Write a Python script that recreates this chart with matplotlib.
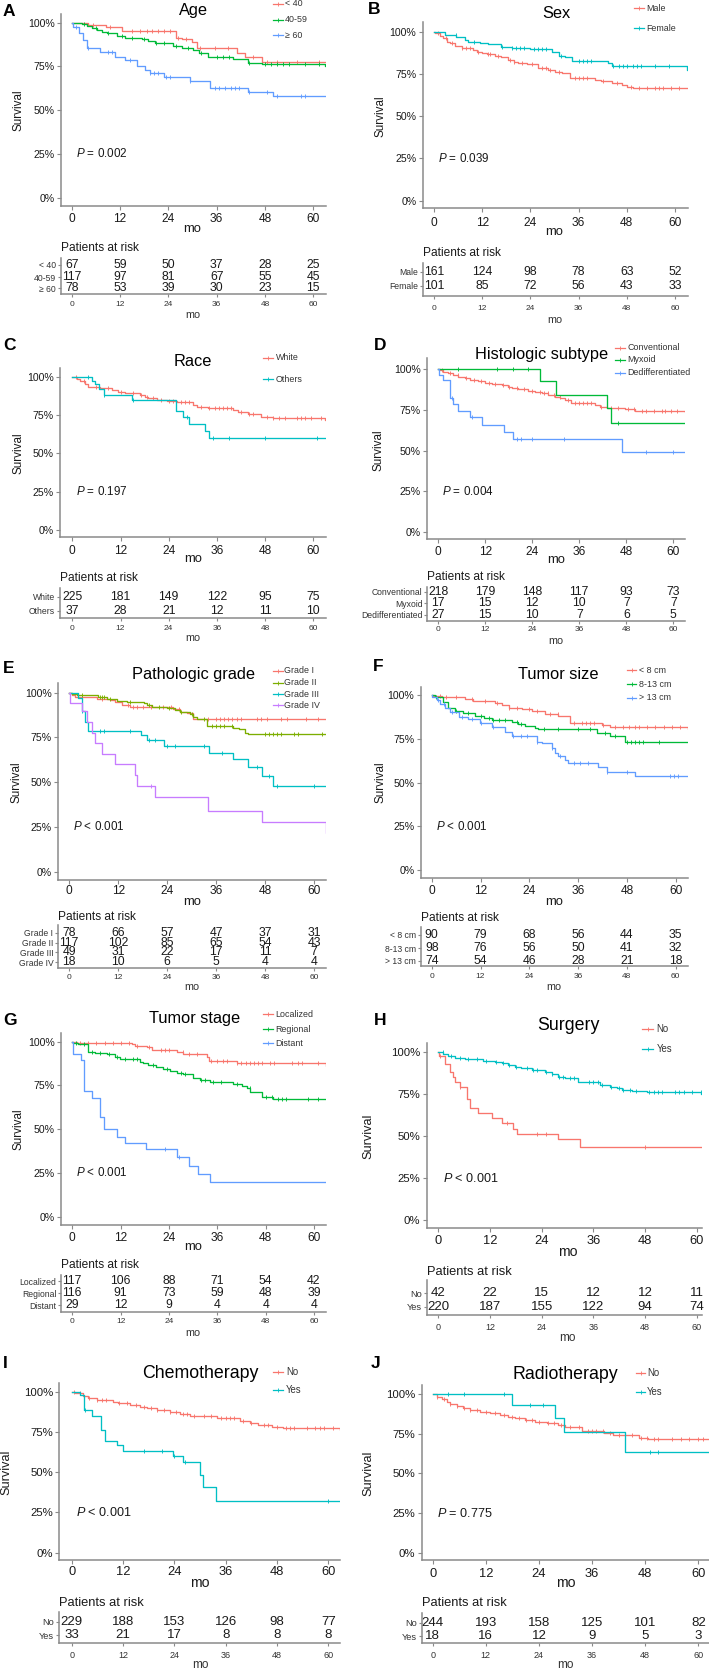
import numpy as np
import matplotlib
matplotlib.use("Agg")
import matplotlib.pyplot as plt

plt.rcParams['font.family'] = ['Liberation Sans', 'DejaVu Sans']
plt.rcParams['mathtext.fontset'] = 'custom'
plt.rcParams['mathtext.rm'] = 'Liberation Sans'
plt.rcParams['mathtext.it'] = 'Liberation Sans:italic'

W, H = 709, 1669
TICKS = [0, 12, 24, 36, 48, 60]
END = 64.0

# ---------------- A: Age
A_title = "Age"
A_p = "= 0.002"
A_groups = ["< 40", "40-59", "\u2265 60"]
A1_t = [4.1, 8.5, 12.4, 25.8, 27.3, 29.8, 31.0, 41.0, 43.0, 47.2]
A1_s = [0.985, 0.973, 0.954, 0.914, 0.905, 0.891, 0.853, 0.829, 0.806, 0.777]
A1_c = [5.4, 9.5, 14.9, 17, 18.6, 19.9, 21.5, 22.8, 24.4, 26.5, 28.5, 31.9, 35.6, 38.9, 45.1, 48.4, 50.9, 55.9, 61.3]
A2_t = [2.5, 3.7, 5.0, 6.2, 7.5, 8.7, 11.2, 13.2, 17.4, 19.0, 20.7, 25.2, 27.3, 30.2, 31.5, 33.9, 40.1, 43.9, 47.2, 62.9]
A2_s = [0.99, 0.98, 0.97, 0.958, 0.949, 0.939, 0.924, 0.914, 0.905, 0.895, 0.882, 0.869, 0.853, 0.844, 0.829, 0.806, 0.79, 0.771, 0.762, 0.75]
A2_c = [3, 6, 9, 12.5, 15, 18, 21, 23, 26, 29, 32, 36, 37.5, 39, 44, 48, 49.5, 51, 52.5, 54, 58, 61.5]
A3_t = [0.4, 1.7, 2.9, 3.9, 7.0, 10.8, 13.2, 16.1, 18.2, 19.5, 22.8, 29.4, 34.4, 43.9, 50.1]
A3_s = [0.973, 0.939, 0.901, 0.853, 0.834, 0.806, 0.787, 0.752, 0.73, 0.71, 0.688, 0.669, 0.625, 0.602, 0.581]
A3_c = [1, 4, 9, 10, 14.5, 19.5, 20.5, 21.5, 23.5, 24.5, 29.5, 35.5, 36.5, 38, 39.5, 40.5, 41.5, 44, 48.5, 51, 57, 58]
A_risk = [[67, 59, 50, 37, 28, 25], [117, 97, 81, 67, 55, 45], [78, 53, 39, 30, 23, 15]]

# ---------------- B: Sex
B_title = "Sex"
B_p = "= 0.039"
B_groups = ["Male", "Female"]
B1_t = [0.2, 1.5, 2.3, 3.2, 4.0, 5.2, 6.9, 9.8, 10.6, 11.9, 13.1, 15.2, 16.8, 18.5, 19.8, 21.0, 23.1, 26.0, 28.5, 30.1, 31.8, 33.9, 40.1, 41.7, 44.2, 46.7, 48.0, 49.6]
B1_s = [0.99, 0.974, 0.96, 0.941, 0.931, 0.917, 0.901, 0.892, 0.882, 0.872, 0.866, 0.856, 0.848, 0.832, 0.82, 0.813, 0.807, 0.783, 0.773, 0.763, 0.753, 0.728, 0.714, 0.706, 0.698, 0.684, 0.671, 0.665]
B1_c = [1, 3, 4.5, 7, 8, 9, 11, 13.5, 14, 16, 19, 20, 22, 24.5, 27, 28, 29, 31, 35, 36, 37, 38, 42, 45.5, 49, 51, 53, 55, 56, 57, 59, 61]
B2_t = [2.7, 5.6, 7.7, 8.5, 11.5, 13.5, 16.8, 19.3, 23.9, 29.3, 31.0, 32.6, 34.3, 43.4, 44.2, 62.9]
B2_s = [0.98, 0.97, 0.95, 0.941, 0.935, 0.925, 0.911, 0.905, 0.897, 0.882, 0.858, 0.848, 0.828, 0.813, 0.797, 0.775]
B2_c = [5.5, 10, 17, 19.5, 20.5, 21.5, 22.5, 25, 26, 27, 28, 31.5, 36, 37, 38, 39, 44.5, 46, 47, 48, 49.5, 50.5, 51.5, 55, 58.5]
B_risk = [[161, 124, 98, 78, 63, 52], [101, 85, 72, 56, 43, 33]]

# ---------------- C: Race
C_title = "Race"
C_p = "= 0.197"
C_groups = ["White", "Others"]
C1_t = [0.2, 1.1, 1.9, 3.2, 4.0, 6.9, 9.8, 11.5, 13.1, 16.8, 18.1, 18.9, 21.0, 23.5, 26.0, 30.1, 31.0, 33.9, 40.1, 41.3, 43.8, 47.1, 50.0, 63.0]
C1_s = [0.996, 0.987, 0.974, 0.952, 0.935, 0.924, 0.913, 0.902, 0.891, 0.88, 0.87, 0.859, 0.848, 0.841, 0.833, 0.815, 0.804, 0.793, 0.783, 0.772, 0.757, 0.739, 0.728, 0.718]
C1_c = [1, 3, 6, 9, 12, 15, 17, 18.5, 20, 22, 24, 25, 27, 28, 29, 32, 34, 35.5, 36.5, 37.5, 38.5, 39.5, 42, 44, 45, 48.5, 50, 51.5, 53, 56, 57, 58, 59.5, 62]
C2_t = [4.8, 5.6, 6.7, 7.9, 14.8, 25.7, 27.5, 29.0, 33.0, 34.1]
C2_s = [0.974, 0.95, 0.92, 0.88, 0.848, 0.778, 0.735, 0.689, 0.646, 0.598]
C2_c = [4, 8, 15, 28.5, 35, 39, 48, 61]
C_risk = [[225, 181, 149, 122, 95, 75], [37, 28, 21, 12, 11, 10]]

# ---------------- D: Histologic subtype
D_title = "Histologic subtype"
D_p = "= 0.004"
D_groups = ["Conventional", "Myxoid", "Dedifferentiated"]
D1_t = [0.4, 1.3, 2.6, 3.8, 5.1, 6.8, 8.1, 10.2, 11.9, 13.6, 16.2, 17.9, 18.7, 20.4, 23.0, 24.7, 26.4, 28.1, 29.8, 31.1, 32.3, 34.0, 40.0, 41.3, 43.0, 46.8, 47.7, 50.2, 63.0]
D1_s = [0.994, 0.984, 0.973, 0.963, 0.953, 0.943, 0.933, 0.927, 0.916, 0.908, 0.902, 0.892, 0.882, 0.876, 0.867, 0.859, 0.851, 0.841, 0.831, 0.82, 0.81, 0.79, 0.78, 0.769, 0.763, 0.759, 0.753, 0.745, 0.738]
D1_c = [1, 3, 5, 7, 9, 11, 13, 14.5, 16.5, 18, 20, 22, 24, 26, 27, 28, 29.5, 31, 33, 35, 36, 37, 38, 39, 41.5, 44, 46, 48.5, 50, 52, 53, 55, 57, 58, 59.5, 61]
D2_t = [26.0, 30.0, 43.0, 44.0]
D2_s = [0.927, 0.841, 0.759, 0.671]
D2_c = [5, 15, 19, 23, 46]
D3_t = [0.3, 1.3, 3.0, 3.8, 5.1, 8.1, 11.1, 16.9, 19.0, 46.8]
D3_s = [0.963, 0.933, 0.82, 0.784, 0.745, 0.704, 0.657, 0.612, 0.571, 0.49]
D3_c = [3.5, 8.5, 20, 21, 24, 32, 53, 60]
D_risk = [[218, 179, 148, 117, 93, 73], [17, 15, 12, 10, 7, 7], [27, 15, 10, 7, 6, 5]]

# ---------------- E: Pathologic grade
E_title = "Pathologic grade"
E_p = "< 0.001"
E_groups = ["Grade I", "Grade II", "Grade III", "Grade IV"]
E1_t = [0.6, 1.4, 6.7, 10.0, 11.2, 12.8, 14.9, 25.5, 27.1, 28.8, 30.4]
E1_s = [0.987, 0.978, 0.963, 0.959, 0.95, 0.931, 0.922, 0.909, 0.894, 0.885, 0.851]
E1_c = [3, 8, 14.5, 15.5, 16.5, 18, 20, 23, 25, 27, 34, 36, 37, 38, 39, 40, 41, 42, 46, 47, 48.5, 52, 53.5, 58, 61]
E2_t = [0.6, 1.8, 7.1, 9.2, 11.6, 14.1, 18.2, 19.0, 20.2, 23.9, 25.9, 27.1, 29.6, 30.4, 31.2, 33.7, 40.2, 41.5, 43.1, 43.9]
E2_s = [0.993, 0.987, 0.974, 0.965, 0.955, 0.95, 0.94, 0.931, 0.922, 0.912, 0.903, 0.894, 0.881, 0.866, 0.851, 0.814, 0.804, 0.797, 0.777, 0.769]
E2_c = [3, 7.5, 8, 8.5, 10, 15, 19.5, 22, 24.5, 27.5, 30, 33, 35, 36, 37, 38, 40, 48, 49, 50, 51, 52, 55, 56, 62]
E3_t = [2.2, 3.0, 3.8, 4.7, 17.7, 19.0, 23.1, 34.3, 40.2, 43.9, 47.2, 50.0]
E3_s = [0.968, 0.899, 0.838, 0.788, 0.764, 0.736, 0.702, 0.665, 0.628, 0.587, 0.534, 0.48]
E3_c = [3, 7.5, 8.5, 15, 19.5, 21, 24, 26, 33, 37.5, 46, 49, 51, 60]
E4_t = [0.2, 3.0, 4.3, 5.5, 6.3, 7.9, 11.2, 16.1, 16.7, 21.0, 34.1, 47.2, 63.0]
E4_s = [0.944, 0.899, 0.838, 0.777, 0.717, 0.657, 0.6, 0.54, 0.48, 0.419, 0.341, 0.276, 0.214]
E4_c = [20]
E_risk = [[78, 66, 57, 47, 37, 31], [117, 102, 85, 65, 54, 43], [49, 31, 22, 17, 11, 7], [18, 10, 6, 5, 4, 4]]

# ---------------- F: Tumor size
F_title = "Tumor size"
F_p = "< 0.001"
F_groups = ["< 8 cm", "8-13 cm", "> 13 cm"]
F1_t = [0.4, 2.5, 5.7, 8.2, 10.2, 15.6, 17.2, 18.9, 22.1, 24.6, 27.9, 31.1, 34.0, 36.9, 41.8, 43.9, 63.1]
F1_s = [0.996, 0.99, 0.987, 0.975, 0.968, 0.956, 0.943, 0.924, 0.918, 0.907, 0.891, 0.88, 0.842, 0.838, 0.829, 0.819, 0.804]
F1_c = [2, 3.5, 6, 10, 13, 16, 19, 21, 24, 26, 29, 31, 35, 37, 38, 39, 40, 42, 45, 47, 48.5, 50, 51, 53, 55, 57, 59, 61]
F2_t = [0.8, 2.9, 4.1, 5.7, 7.8, 10.7, 12.8, 14.8, 19.7, 21.3, 23.0, 25.4, 26.2, 40.6, 43.9, 47.5]
F2_s = [0.99, 0.962, 0.924, 0.91, 0.899, 0.88, 0.867, 0.857, 0.848, 0.834, 0.823, 0.81, 0.804, 0.781, 0.766, 0.733]
F2_c = [1, 6, 9, 12, 14, 15, 16.5, 18, 21, 22, 27.5, 31, 36, 39, 42.5, 45, 48, 49, 50, 51, 52, 56]
F3_t = [0.1, 1.2, 2.0, 3.3, 4.5, 6.6, 9.0, 11.9, 14.8, 18.0, 19.7, 25.8, 27.0, 29.5, 30.3, 31.1, 32.8, 33.6, 41.0, 43.0, 50.0]
F3_s = [0.987, 0.971, 0.949, 0.924, 0.905, 0.876, 0.861, 0.838, 0.819, 0.79, 0.766, 0.733, 0.724, 0.695, 0.667, 0.651, 0.629, 0.613, 0.59, 0.562, 0.537]
F3_c = [1.5, 3, 5, 7.5, 10, 12, 15, 20, 22, 23.5, 26, 29.5, 31.5, 35, 36.5, 38.5, 43, 48, 58.5, 59.5, 60.5]
F_risk = [[90, 79, 68, 56, 44, 35], [98, 76, 56, 50, 41, 32], [74, 54, 46, 28, 21, 18]]

# ---------------- G: Tumor stage
G_title = "Tumor stage"
G_p = "< 0.001"
G_groups = ["Localized", "Regional", "Distant"]
G1_t = [1.1, 14.7, 15.6, 18.5, 19.7, 25.9, 27.6, 33.4, 34.0, 40.8, 63.0]
G1_s = [0.994, 0.987, 0.977, 0.968, 0.952, 0.943, 0.93, 0.914, 0.891, 0.876, 0.863]
G1_c = [2, 4, 6, 8, 10, 12, 14, 16, 19, 22, 23, 24, 27.5, 29, 31, 34.5, 36, 37.5, 38.5, 41, 42, 43, 44, 45, 46, 47, 49, 50, 54.5, 56, 57, 61]
G2_t = [0.2, 1.5, 4.0, 5.6, 8.5, 10.6, 11.8, 16.8, 17.6, 18.9, 20.9, 22.6, 24.3, 25.9, 27.6, 30.0, 31.7, 34.2, 40.0, 42.1, 43.3, 44.1, 47.0, 49.9]
G2_s = [0.99, 0.985, 0.943, 0.937, 0.93, 0.914, 0.899, 0.886, 0.876, 0.867, 0.857, 0.842, 0.832, 0.823, 0.815, 0.79, 0.781, 0.771, 0.758, 0.747, 0.733, 0.714, 0.686, 0.672]
G2_c = [1, 3, 5, 7, 9, 11, 13, 15, 16, 20, 23.5, 27, 28, 32, 33, 35, 37, 41, 44, 48, 49.5, 51, 52, 53, 58.5, 61]
G3_t = [0.1, 2.1, 2.9, 4.8, 6.9, 7.9, 11.0, 13.1, 18.2, 25.9, 29.0, 31.3, 34.2]
G3_s = [0.928, 0.895, 0.718, 0.68, 0.571, 0.501, 0.457, 0.423, 0.387, 0.343, 0.291, 0.244, 0.196]
G3_c = [23, 26.5]
G_risk = [[117, 106, 88, 71, 54, 42], [116, 91, 73, 59, 48, 39], [29, 12, 9, 4, 4, 4]]

# ---------------- H: Surgery
H_title = "Surgery"
H_p = "< 0.001"
H_groups = ["No", "Yes"]
H1_t = [0.1, 1.5, 2.7, 3.5, 3.9, 5.0, 6.6, 7.4, 9.3, 12.4, 14.7, 17.4, 18.2, 27.9, 32.9]
H1_s = [0.976, 0.928, 0.885, 0.855, 0.825, 0.795, 0.72, 0.666, 0.636, 0.606, 0.577, 0.543, 0.511, 0.481, 0.437]
H1_c = [0.5, 5, 16, 23, 25, 48]
H2_t = [1.2, 2.3, 3.9, 6.2, 10.4, 13.2, 14.7, 16.3, 17.8, 19.3, 21.7, 24.8, 26.3, 27.9, 29.4, 32.5, 37.5, 39.9, 41.4, 42.6, 44.9, 48.4, 61.1]
H2_s = [0.99, 0.98, 0.968, 0.96, 0.948, 0.94, 0.934, 0.924, 0.915, 0.905, 0.895, 0.881, 0.869, 0.855, 0.845, 0.82, 0.805, 0.795, 0.785, 0.775, 0.769, 0.761, 0.75]
H2_c = [1, 3, 5, 7, 9, 11, 13.5, 15, 16.5, 18, 20.5, 22, 23, 25, 26.5, 28, 29, 30.5, 31.5, 35, 36, 37, 38, 40, 42, 43, 44.5, 46, 49, 50, 51, 52, 55, 56, 57, 59, 61]
H_risk = [[42, 22, 15, 12, 12, 11], [220, 187, 155, 122, 94, 74]]

# ---------------- I: Chemotherapy
I_title = "Chemotherapy"
I_p = "< 0.001"
I_groups = ["No", "Yes"]
I1_t = [0.8, 2.7, 3.9, 5.8, 9.7, 10.9, 13.6, 16.0, 17.5, 19.9, 23.0, 25.3, 27.7, 33.9, 39.4, 41.7, 43.6, 46.8, 49.5, 62.7]
I1_s = [0.99, 0.973, 0.959, 0.948, 0.938, 0.928, 0.917, 0.907, 0.896, 0.886, 0.876, 0.861, 0.849, 0.834, 0.818, 0.803, 0.793, 0.783, 0.772, 0.762]
I1_c = [0.5, 2, 4, 6, 7, 8, 11, 13, 15, 17, 18.5, 20, 21.5, 23, 24.5, 26, 27, 28.5, 31, 32.5, 35, 36, 37, 38, 40, 42, 45, 46, 48, 50, 51, 52, 55, 57, 58, 59, 61]
I2_t = [1.9, 2.9, 4.7, 6.9, 7.8, 10.7, 11.9, 23.6, 26.0, 29.9, 30.8, 33.7]
I2_s = [0.979, 0.886, 0.849, 0.762, 0.694, 0.669, 0.631, 0.602, 0.565, 0.482, 0.406, 0.323]
I2_c = [3, 17, 21, 24, 26.5, 60]
I_risk = [[229, 188, 153, 126, 98, 77], [33, 21, 17, 8, 8, 8]]

# ---------------- J: Radiotherapy
J_title = "Radiotherapy"
J_p = "= 0.775"
J_groups = ["No", "Yes"]
J1_t = [0.9, 2.0, 3.2, 3.9, 5.4, 6.9, 8.4, 10.7, 13.0, 15.2, 17.1, 18.6, 20.9, 23.1, 25.8, 28.4, 29.9, 33.7, 38.6, 40.8, 46.5, 48.7]
J1_s = [0.983, 0.966, 0.952, 0.935, 0.924, 0.91, 0.899, 0.889, 0.878, 0.868, 0.857, 0.847, 0.836, 0.826, 0.815, 0.805, 0.794, 0.769, 0.756, 0.742, 0.725, 0.714]
J1_c = [1, 2.5, 4, 5.5, 7, 8.5, 10, 12, 14, 16, 18, 19.5, 21, 22.5, 24, 26, 27.5, 29, 31, 33, 35, 36, 37, 38.5, 40, 42, 43.5, 45, 47, 48.5, 50, 51, 54, 56, 58, 60, 61]
J2_t = [18.0, 27.6, 29.7, 43.4]
J2_s = [0.931, 0.847, 0.763, 0.637]
J2_c = [3.5, 7, 16, 22, 25, 49, 51]
J_risk = [[244, 193, 158, 125, 101, 82], [18, 16, 12, 9, 5, 3]]

# ---------------- colours (ggplot hue palette)
PAL = {2: ['#F8766D', '#00BFC4'],
       3: ['#F8766D', '#00BA38', '#619CFF'],
       4: ['#F8766D', '#7CAE00', '#00BFC4', '#C77CFF']}

# ---------------- layout (pixel positions)
LAY = {
 'A': dict(l=61, r=326, t=14, b=206, x0=71.7, x60=313.3, y100=22.7, y0=197.7, xt=216,
           title=(193, 11), letter=(9, 11), leg=(273, 283, 285, [4, 20, 35]), ylx=18, mo=229,
           par=248, tt=258, tb=294, rows=[265, 277, 288], rt=303, mo2=315, k=1.0),
 'B': dict(l=422.7, r=687.7, t=21.7, b=208, x0=434, x60=675, y100=31.7, y0=200.7, xt=220,
           title=(556.7, 14), letter=(374, 9), leg=(634, 644, 646, [8.3, 28.3]), ylx=380, mo=231.7,
           par=253.3, tt=263.3, tb=296, rows=[271.7, 285.7], rt=306.7, mo2=320, k=1.0),
 'C': dict(l=60, r=326, t=368.3, b=537.3, x0=72.3, x60=313.3, y100=376.7, y0=530, xt=547.7,
           title=(192.7, 361), letter=(9, 345), leg=(263, 273, 276, [357.7, 379]), ylx=18, mo=559.3,
           par=578.3, tt=588.3, tb=617.7, rows=[596.7, 610.7], rt=626.7, mo2=638.3, k=1.0),
 'D': dict(l=427.3, r=685, t=358.3, b=539, x0=438.3, x60=673.3, y100=369, y0=532.3, xt=549.3,
           title=(541.7, 355), letter=(380, 345), leg=(615, 625, 627.7, [347.7, 360, 372.7]), ylx=378, mo=560,
           par=576.7, tt=586.7, tb=621, rows=[591.7, 603.3, 615], rt=628.3, mo2=641, k=1.0),
 'E': dict(l=58.3, r=326, t=683, b=880, x0=69.3, x60=314, y100=692.7, y0=871.7, xt=888.3,
           title=(193, 674), letter=(9, 668), leg=(273, 283, 284, [670.7, 682.7, 694, 705]), ylx=17, mo=901.7,
           par=916.7, tt=925, tb=967.7, rows=[932.7, 942.7, 952.3, 962.3], rt=976, mo2=987, k=1.0),
 'F': dict(l=420.7, r=688, t=686.7, b=878.3, x0=431.7, x60=675.7, y100=695, y0=870, xt=888.3,
           title=(558, 674), letter=(378, 666), leg=(627, 636, 639, [670, 684.3, 697.7]), ylx=380, mo=901.7,
           par=918, tt=927, tb=966, rows=[935, 948, 960.7], rt=975, mo2=987, k=1.0),
 'G': dict(l=61, r=326, t=1033.3, b=1225, x0=72.3, x60=314, y100=1041.7, y0=1216.7, xt=1235,
           title=(195, 1018.3), letter=(10, 1020), leg=(263, 273, 275, [1014, 1029, 1043.3]), ylx=18, mo=1246.7,
           par=1265, tt=1275, tb=1311.7, rows=[1281, 1293.3, 1305], rt=1320, mo2=1333, k=1.0),
 'H': dict(l=426.7, r=701.7, t=1043.3, b=1228.3, x0=438.3, x60=696.7, y100=1052.3, y0=1220, xt=1238.3,
           title=(568.3, 1025), letter=(380, 1020), leg=(642, 653, 656.7, [1029.3, 1049]), ylx=368, mo=1251.7,
           par=1271.7, tt=1280, tb=1315, rows=[1293.3, 1306.7], rt=1325, mo2=1338, k=1.08),
 'I': dict(l=59.3, r=340, t=1382.7, b=1560, x0=71.7, x60=328.3, y100=1391.7, y0=1552.7, xt=1569.3,
           title=(200, 1373), letter=(5, 1363), leg=(273, 283, 286, [1372, 1390]), ylx=6, mo=1583.3,
           par=1602.7, tt=1611.7, tb=1643.3, rows=[1621.7, 1635], rt=1653.3, mo2=1665, k=1.08),
 'J': dict(l=421.7, r=709, t=1385, b=1560, x0=432.7, x60=698.3, y100=1394, y0=1552.7, xt=1571.7,
           title=(565.7, 1374), letter=(376, 1363), leg=(636, 645, 647, [1373, 1391.7]), ylx=368, mo=1583.3,
           par=1603, tt=1613, tb=1643, rows=[1622.7, 1636], rt=1653, mo2=1665, k=1.08),
}

PANELS = [
 ('A', A_title, A_p, A_groups, [(A1_t, A1_s, A1_c), (A2_t, A2_s, A2_c), (A3_t, A3_s, A3_c)], A_risk),
 ('B', B_title, B_p, B_groups, [(B1_t, B1_s, B1_c), (B2_t, B2_s, B2_c)], B_risk),
 ('C', C_title, C_p, C_groups, [(C1_t, C1_s, C1_c), (C2_t, C2_s, C2_c)], C_risk),
 ('D', D_title, D_p, D_groups, [(D1_t, D1_s, D1_c), (D2_t, D2_s, D2_c), (D3_t, D3_s, D3_c)], D_risk),
 ('E', E_title, E_p, E_groups, [(E1_t, E1_s, E1_c), (E2_t, E2_s, E2_c), (E3_t, E3_s, E3_c), (E4_t, E4_s, E4_c)], E_risk),
 ('F', F_title, F_p, F_groups, [(F1_t, F1_s, F1_c), (F2_t, F2_s, F2_c), (F3_t, F3_s, F3_c)], F_risk),
 ('G', G_title, G_p, G_groups, [(G1_t, G1_s, G1_c), (G2_t, G2_s, G2_c), (G3_t, G3_s, G3_c)], G_risk),
 ('H', H_title, H_p, H_groups, [(H1_t, H1_s, H1_c), (H2_t, H2_s, H2_c)], H_risk),
 ('I', I_title, I_p, I_groups, [(I1_t, I1_s, I1_c), (I2_t, I2_s, I2_c)], I_risk),
 ('J', J_title, J_p, J_groups, [(J1_t, J1_s, J1_c), (J2_t, J2_s, J2_c)], J_risk),
]

SPINE = '#8a8a8a'
TXT = '#1a1a1a'

fig = plt.figure(figsize=(W / 100, H / 100), dpi=100)
fig.patch.set_facecolor('white')


def rect(l, t, r, b):
    return [l / W, 1 - b / H, (r - l) / W, (b - t) / H]


def style_axes(ax):
    for s in ('top', 'right'):
        ax.spines[s].set_visible(False)
    for s in ('left', 'bottom'):
        ax.spines[s].set_color(SPINE)
        ax.spines[s].set_linewidth(1.1)
    ax.set_facecolor('none')


def pad_for(label_y, spine_y, fs_pt, ticklen_px):
    fs_px = fs_pt / 0.72
    return max(0.3, (label_y - spine_y - ticklen_px - fs_px * 0.36) * 0.72)


axes_main = []
for key, title, ptxt, groups, curves, risk in PANELS:
    L = LAY[key]
    k = L['k']
    cols = PAL[len(groups)]
    sx = (L['x60'] - L['x0']) / 60.0
    xlim = ((L['l'] - L['x0']) / sx, (L['r'] - L['x0']) / sx)
    sy = L['y0'] - L['y100']
    ylim = ((L['y0'] - L['b']) / sy, (L['y0'] - L['t']) / sy)

    ax = fig.add_axes(rect(L['l'], L['t'], L['r'], L['b']))
    style_axes(ax)
    ax.set_xlim(*xlim)
    ax.set_ylim(*ylim)
    for (t, s, c), col in zip(curves, cols):
        tt = np.array([0.0] + list(t) + [END])
        ss = np.array([1.0] + list(s) + [s[-1]])
        ax.step(tt, ss, where='post', color=col, lw=0.95)
        c = np.array(c, dtype=float)
        idx = np.searchsorted(tt, c, side='right') - 1
        ax.plot(c, ss[idx], ls='none', marker='|', ms=3.0, mew=0.65, color=col)
    ax.set_xticks(TICKS)
    ax.set_xticklabels([str(v) for v in TICKS])
    ax.set_yticks([0, 0.25, 0.5, 0.75, 1.0])
    ax.set_yticklabels(['0%', '25%', '50%', '75%', '100%'])
    xfs = 8.6 * k
    ax.tick_params(axis='x', length=3, width=0.8, color=SPINE, labelsize=xfs, labelcolor=TXT,
                   pad=pad_for(L['xt'], L['b'], xfs, 3))
    ax.tick_params(axis='y', length=3, width=0.8, color=SPINE, labelsize=7.6 * k, labelcolor=TXT, pad=1.5)
    ax.text(1.0, 0.25, r'$\mathit{P}$ ' + ptxt, fontsize=8.4 * k, va='center', ha='left', color=TXT)

    # risk table
    ax2 = fig.add_axes(rect(L['l'], L['tt'], L['r'], L['tb']))
    style_axes(ax2)
    ax2.set_xlim(*xlim)
    ax2.set_ylim(L['tb'], L['tt'])
    ax2.set_yticks(L['rows'])
    ax2.set_yticklabels(groups)
    ax2.set_xticks(TICKS)
    ax2.set_xticklabels([str(v) for v in TICKS])
    rfs = 6.0 * k
    ax2.tick_params(axis='x', length=2.5, width=0.8, color=SPINE, labelsize=rfs, labelcolor='#333333',
                    pad=pad_for(L['rt'], L['tb'], rfs, 2.5))
    ax2.tick_params(axis='y', length=2.5, width=0.8, color=SPINE, labelsize=6.2 * k, labelcolor='#333333', pad=1)
    nfs = 8.8 * k
    for row_y, vals in zip(L['rows'], risk):
        for xv, n in zip(TICKS, vals):
            ax2.text(xv, row_y, str(n), ha='center', va='center', fontsize=nfs, color=TXT)
    axes_main.append((key, title, groups, cols, L))

# overlay for free text
ov = fig.add_axes([0, 0, 1, 1])
ov.set_xlim(0, W)
ov.set_ylim(H, 0)
ov.axis('off')
ov.patch.set_alpha(0)
for key, title, groups, cols, L in axes_main:
    k = L['k']
    ov.text(L['letter'][0], L['letter'][1], key, fontsize=12.5, fontweight='bold', ha='center', va='center', color='black')
    ov.text(L['title'][0], L['title'][1], title, fontsize=11.8 * k, ha='center', va='center', color='black')
    lx0, lx1, tx, ys = L['leg']
    for g, col, yy in zip(groups, cols, ys):
        ov.plot([lx0, lx1], [yy, yy], color=col, lw=0.9)
        ov.plot([(lx0 + lx1) / 2], [yy], marker='|', ms=2.5, mew=0.6, color=col)
        ov.text(tx, yy, g, fontsize=6.4 * k, va='center', ha='left', color='#333333')
    ov.text(L['ylx'], (L['y100'] + L['y0']) / 2, 'Survival', rotation=90, fontsize=8.4 * k,
            ha='center', va='center', color=TXT)
    xc = (L['x0'] + L['x60']) / 2
    ov.text(xc, L['mo'], 'mo', fontsize=9.4 * k, ha='center', va='center', color=TXT)
    ov.text(L['l'], L['par'], 'Patients at risk', fontsize=8.6 * k, ha='left', va='center', color=TXT)
    ov.text(xc, L['mo2'], 'mo', fontsize=7.8 * k, ha='center', va='center', color='#333333')

fig.savefig('out.png', dpi=100, facecolor='white')
